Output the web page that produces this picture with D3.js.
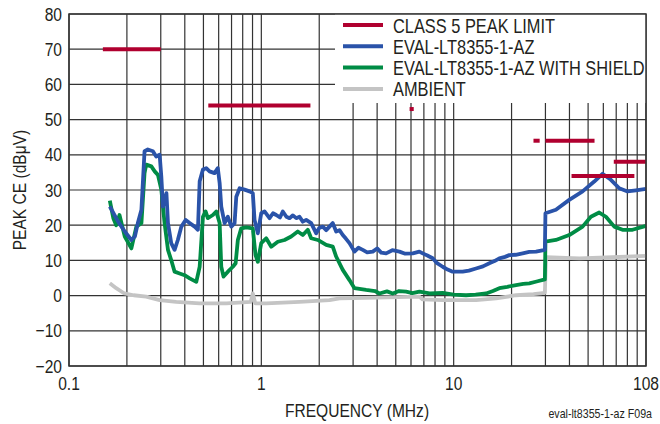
<!DOCTYPE html>
<html>
<head>
<meta charset="utf-8">
<script src="https://cdn.jsdelivr.net/npm/d3@7"></script>
<style>
    body { margin: 0; background: #fff; }
    text { font-family: "Liberation Sans", Arial, sans-serif; fill: #231f20; }
</style>
</head>
<body>
<div id="chart"></div>
<script>

// ---- data (frequency in MHz, level in dBuV) ----

// CISPR 25 class 5 peak limit: [start MHz, end MHz, level]
var limitSegments = [
    [0.15, 0.30, 70],
    [0.53, 1.8, 54],
    [5.9, 6.2, 53],
    [26, 28, 44],
    [30, 54, 44],
    [41, 87, 34],
    [68, 100, 38]
];

var evalBoard = [
    [0.163, 25.3], [0.172, 23.0], [0.180, 21.0], [0.195, 18.2], [0.211, 15.8], [0.220, 16.8],
    [0.228, 20.6], [0.238, 24.4], [0.247, 41.0], [0.257, 41.5], [0.273, 41.0], [0.284, 39.5],
    [0.296, 40.0], [0.302, 33.8], [0.308, 25.3], [0.321, 29.1], [0.327, 20.6], [0.340, 14.9],
    [0.354, 13.0], [0.368, 15.8], [0.384, 19.6], [0.404, 21.5], [0.424, 20.6], [0.450, 19.6],
    [0.468, 18.7], [0.478, 32.5], [0.497, 35.8], [0.517, 36.2], [0.538, 35.3], [0.571, 34.8],
    [0.594, 36.2], [0.607, 32.0], [0.619, 25.3], [0.644, 20.6], [0.670, 22.4], [0.698, 19.6],
    [0.726, 20.6], [0.741, 28.1], [0.771, 30.5], [0.818, 30.1], [0.868, 29.6], [0.903, 29.1],
    [0.922, 21.5], [0.959, 17.7], [0.999, 23.4], [1.039, 23.9], [1.103, 22.0], [1.150, 23.4],
    [1.195, 22.9], [1.250, 22.2], [1.293, 23.9], [1.350, 22.4], [1.401, 22.0], [1.460, 22.8],
    [1.518, 22.0], [1.579, 22.4], [1.643, 21.0], [1.711, 21.5], [1.816, 20.6], [1.929, 17.7],
    [2.000, 19.2], [2.087, 19.6], [2.174, 18.6], [2.261, 19.6], [2.352, 20.6], [2.449, 18.2],
    [2.548, 18.6], [2.651, 17.2], [2.750, 16.2], [2.872, 14.9], [3.050, 12.5], [3.200, 13.6],
    [3.368, 13.0], [3.550, 12.3], [3.795, 12.5], [4.000, 13.4], [4.200, 12.2], [4.454, 12.0],
    [4.800, 12.9], [5.224, 12.5], [5.600, 11.9], [6.124, 12.0], [6.634, 12.5], [6.902, 12.0],
    [7.300, 11.4], [7.779, 10.6], [8.200, 9.2], [8.767, 8.2], [9.300, 7.4], [9.880, 6.8],
    [11.14, 6.8], [12.00, 7.1], [13.07, 7.7], [14.20, 8.3], [15.33, 9.2], [16.30, 9.8],
    [17.28, 10.6], [18.50, 11.0], [19.47, 11.5], [21.00, 11.6], [22.83, 12.0], [24.70, 12.4],
    [26.81, 12.5], [29.80, 13.0], [30.0, 23.4], [34.0, 24.4], [39.9, 27.2], [46.8, 29.6],
    [53.8, 32.4], [59.4, 34.6], [65.7, 32.9], [72.6, 30.5], [80.2, 29.6], [88.6, 29.9],
    [100, 30.3]
];

var evalShield = [
    [0.163, 27.0], [0.170, 22.0], [0.176, 20.0], [0.183, 22.9], [0.195, 16.8], [0.211, 13.4],
    [0.224, 19.6], [0.238, 20.6], [0.247, 34.8], [0.252, 37.2], [0.268, 36.7], [0.279, 35.3],
    [0.290, 34.3], [0.302, 30.1], [0.314, 20.6], [0.327, 13.0], [0.340, 10.1], [0.354, 6.8],
    [0.376, 6.3], [0.399, 5.8], [0.424, 4.9], [0.459, 3.9], [0.478, 8.2], [0.497, 22.4],
    [0.513, 23.9], [0.527, 22.0], [0.560, 22.9], [0.583, 23.9], [0.607, 20.6], [0.619, 8.2],
    [0.636, 5.4], [0.670, 6.8], [0.711, 8.2], [0.735, 9.2], [0.755, 15.8], [0.786, 19.1],
    [0.835, 19.4], [0.903, 19.1], [0.933, 11.5], [0.959, 9.6], [0.999, 14.9], [1.060, 16.3],
    [1.126, 13.9], [1.218, 15.3], [1.320, 15.8], [1.430, 16.8], [1.547, 18.2], [1.643, 17.2],
    [1.744, 18.7], [1.816, 16.3], [1.966, 15.8], [2.174, 14.4], [2.352, 13.9], [2.449, 11.1],
    [2.651, 7.3], [2.872, 4.4], [3.050, 2.1], [3.507, 1.6], [3.900, 1.3], [4.111, 0.6],
    [4.500, 1.2], [4.821, 0.6], [5.200, 1.3], [5.658, 1.1], [6.100, 0.7], [6.634, 1.1],
    [7.500, 0.6], [8.767, 0.8], [10.00, 0.3], [11.60, 0.1], [13.00, 0.3], [14.74, 0.6],
    [16.00, 1.3], [17.28, 2.1], [19.00, 2.5], [21.10, 3.0], [23.00, 3.3], [24.74, 3.5],
    [27.00, 4.0], [29.80, 4.6], [30.0, 15.3], [34.0, 15.8], [39.9, 17.2], [46.8, 19.6],
    [51.7, 22.4], [57.1, 23.6], [61.9, 22.4], [68.4, 19.6], [75.5, 18.7], [85.1, 18.7],
    [100, 19.8]
];

var ambient = [
    [0.163, 3.5], [0.176, 2.1], [0.194, 0.6], [0.217, 0.1], [0.252, -0.3], [0.296, -1.3],
    [0.361, -1.8], [0.478, -2.2], [0.658, -2.2], [0.880, -1.8], [0.903, 0.6], [0.930, -2.2],
    [1.060, -2.2], [1.579, -1.8], [2.261, -1.3], [2.548, -0.8], [4.000, -0.6], [6.634, -0.3],
    [6.902, -1.1], [8.767, -1.3], [13.07, -1.3], [16.61, -0.8], [21.10, 0.1], [26.00, 0.4],
    [29.80, 0.8], [30.2, 10.9], [45.0, 10.6], [67.0, 10.9], [100, 11.3]
];

var yTickValues = [-20, -10, 0, 10, 20, 30, 40, 50, 60, 70, 80];
var xTickValues = [0.1, 1, 10, 100];
var xTickLabels = ["0.1", "1", "10", "108"];

var legendLabels = ["CLASS 5 PEAK LIMIT", "EVAL-LT8355-1-AZ", "EVAL-LT8355-1-AZ WITH SHIELD", "AMBIENT"];
var legendColors = ["#b0002f", "#2a53a9", "#008c45", "#c4c4c4"];

// ---- chart ----

var width = 660, height = 424;
var margin = {top: 14, right: 14, bottom: 58, left: 69};
var narrow = 0.82;   // squeeze text horizontally, the original uses a condensed face

var svg = d3.select("#chart").append("svg")
    .attr("width", width)
    .attr("height", height);

var x = d3.scaleLog()
    .domain([0.1, 100])
    .range([margin.left, width - margin.right]);

var y = d3.scaleLinear()
    .domain([-20, 80])
    .range([height - margin.bottom, margin.top]);

//places a condensed text at (px, py)
function narrowText(parent, str, px, py, size, anchor, rotate) {
    return parent.append("text")
        .text(str)
        .attr("transform", "translate(" + px + "," + py + ")" + (rotate ? " rotate(" + rotate + ")" : "") + " scale(" + narrow + ",1)")
        .attr("text-anchor", anchor || "start")
        .style("font-size", size + "px")
}

//grid lines: every 1..9 of each decade, and every 10 dB
svg.append("g").selectAll("line")
    .data(x.ticks())
    .enter()
    .append("line")
    .attr("x1", function (d) {return x(d)})
    .attr("x2", function (d) {return x(d)})
    .attr("y1", y(-20))
    .attr("y2", y(80))
    .attr("stroke", "#333")
    .attr("stroke-width", 1.2)

svg.append("g").selectAll("line")
    .data(yTickValues)
    .enter()
    .append("line")
    .attr("x1", x(0.1))
    .attr("x2", x(100))
    .attr("y1", function (d) {return y(d)})
    .attr("y2", function (d) {return y(d)})
    .attr("stroke", "#333")
    .attr("stroke-width", 1.2)

//white box behind the legend hides the grid
svg.append("rect")
    .attr("x", 335)
    .attr("y", y(80))
    .attr("width", x(100) - 335)
    .attr("height", 89)
    .attr("fill", "#fff")

var line = d3.line()
    .x(function (d) {return x(d[0])})
    .y(function (d) {return y(d[1])})

var series = [ambient, evalShield, evalBoard];
var seriesColors = [legendColors[3], legendColors[2], legendColors[1]];

svg.append("g").selectAll("path")
    .data(series)
    .enter()
    .append("path")
    .attr("d", line)
    .attr("fill", "none")
    .attr("stroke", function (d, i) {return seriesColors[i]})
    .attr("stroke-width", 3.8)
    .attr("stroke-linejoin", "round")

svg.append("g").selectAll("line")
    .data(limitSegments)
    .enter()
    .append("line")
    .attr("x1", function (d) {return x(d[0])})
    .attr("x2", function (d) {return x(d[1])})
    .attr("y1", function (d) {return y(d[2])})
    .attr("y2", function (d) {return y(d[2])})
    .attr("stroke", legendColors[0])
    .attr("stroke-width", 4)

//plot frame
svg.append("rect")
    .attr("x", x(0.1))
    .attr("y", y(80))
    .attr("width", x(100) - x(0.1))
    .attr("height", y(-20) - y(80))
    .attr("fill", "none")
    .attr("stroke", "#333")
    .attr("stroke-width", 1.5)

//tick labels
var yLabels = svg.append("g");
yTickValues.forEach(function (d) {
    narrowText(yLabels, d3.format("")(d), 62, y(d) + 6.5, 19, "end")
});

var xLabels = svg.append("g");
xTickValues.forEach(function (d, i) {
    narrowText(xLabels, xTickLabels[i], x(d), 390, 19, "middle")
});

//axis titles
narrowText(svg, "FREQUENCY (MHz)", 357, 417, 19, "middle")
narrowText(svg, "PEAK CE (dBμV)", 26, 190, 19, "middle", -90)
narrowText(svg, "eval-lt8355-1-az F09a", 652, 418, 13, "end")

//legend
legendLabels.forEach(function (d, i) {
    var ly = 25 + i * 21.3;
    svg.append("line")
        .attr("x1", 343)
        .attr("x2", 383)
        .attr("y1", ly)
        .attr("y2", ly)
        .attr("stroke", legendColors[i])
        .attr("stroke-width", 4)
    narrowText(svg, d, 393, ly + 7.5, 20, "start")
});

</script>
</body>
</html>
